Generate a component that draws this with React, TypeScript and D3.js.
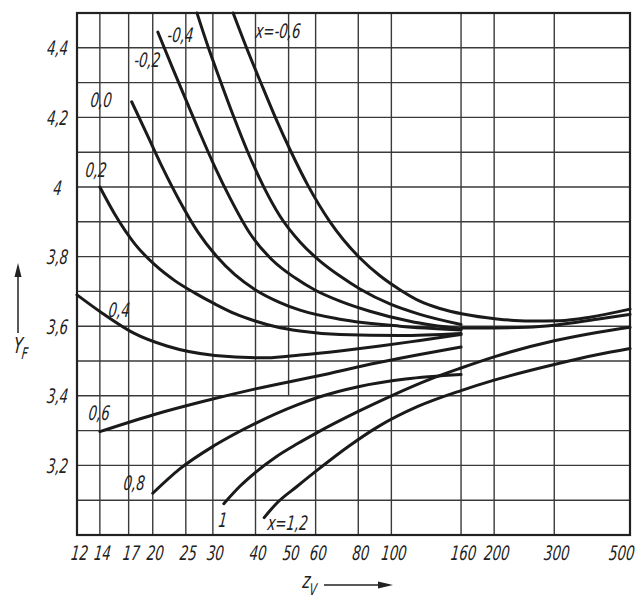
import React, { useRef, useEffect } from 'react';
import * as d3 from 'd3';

// z_v axis (log scale)
const zTicks = [12, 14, 17, 20, 25, 30, 40, 50, 60, 80, 100, 160, 200, 300, 500];
const zGrid = [14, 17, 20, 25, 30, 40, 60, 80, 100, 160, 200, 300];
const zGridShort = [50];
// Y_F axis
const yTicks = [4.4, 4.2, 4.0, 3.8, 3.6, 3.4, 3.2];
const yGrid = [3.1, 3.2, 3.3, 3.4, 3.5, 3.6, 3.7, 3.8, 3.9, 4.0, 4.1, 4.2, 4.3, 4.4];

// curves: [z_v, Y_F] for each profile shift x
const xm06 = [[34.4, 4.5], [38, 4.39], [42.1, 4.284], [46.2, 4.19], [50.5, 4.107], [57, 4.004], [66.1, 3.9], [80.9, 3.796], [92.6, 3.745], [105.9, 3.705], [121.2, 3.672], [138.7, 3.651], [162, 3.635], [203.8, 3.621], [254.6, 3.615], [311.6, 3.616], [381.5, 3.626], [500, 3.649]];
const xm04 = [[26.95, 4.5], [29, 4.405], [31.5, 4.307], [34.4, 4.206], [37.8, 4.105], [42.1, 4.004], [47.2, 3.916], [54, 3.842], [61.8, 3.787], [70.7, 3.744], [80.9, 3.707], [99, 3.664], [121.2, 3.634], [160, 3.605]];
const xm02 = [[20.7, 4.445], [22.9, 4.34], [25.2, 4.243], [27.5, 4.155], [30.4, 4.058], [33.7, 3.968], [38.5, 3.867], [44.7, 3.791], [52.2, 3.739], [59.7, 3.704], [70.7, 3.672], [86.5, 3.643], [113.3, 3.614], [160, 3.592]];
const x00 = [[17.35, 4.245], [19.24, 4.151], [21.4, 4.054], [24, 3.959], [27.1, 3.871], [30.8, 3.8], [34.8, 3.748], [39.9, 3.705], [47.2, 3.668], [54, 3.646], [70.7, 3.62], [105.9, 3.6], [160, 3.589]];
const x02 = [[14, 4.0], [15.5, 3.921], [17.74, 3.836], [20.3, 3.776], [23.2, 3.731], [26.6, 3.695], [30.4, 3.664], [34.8, 3.636], [39.9, 3.615], [45.6, 3.599], [54, 3.586], [70.7, 3.576], [105.9, 3.573], [160, 3.579]];
const x04 = [[12, 3.69], [14.3, 3.636], [17.6, 3.58], [22, 3.543], [30.4, 3.516], [43.2, 3.509], [54, 3.517], [70.7, 3.529], [92.6, 3.543], [121.2, 3.559], [160, 3.576]];
const x06 = [[14, 3.297], [20, 3.345], [28.4, 3.385], [40, 3.42], [60.8, 3.457], [91, 3.495], [120, 3.518], [160, 3.54]];
const x08 = [[20, 3.12], [24, 3.19], [30.3, 3.257], [40, 3.321], [53, 3.374], [60.8, 3.395], [80, 3.426], [110, 3.448], [160, 3.461]];
const x10 = [[32.3, 3.09], [36, 3.14], [40, 3.18], [46, 3.225], [53, 3.262], [60.8, 3.295], [80, 3.355], [100, 3.4], [130, 3.448], [160, 3.48], [200, 3.512], [300, 3.558], [400, 3.582], [500, 3.597]];
const x12 = [[42.4, 3.05], [46, 3.09], [53, 3.14], [60.8, 3.187], [75, 3.255], [91, 3.31], [120, 3.37], [160, 3.415], [200, 3.445], [300, 3.49], [400, 3.518], [500, 3.536]];
const merged = [[160, 3.595], [200, 3.595], [250, 3.597], [300, 3.603], [400, 3.62], [500, 3.634]];

const curves = [xm06, xm04, xm02, x00, x02, x04, x06, x08, x10, x12, merged];

// curve labels, anchored in data coordinates [z_v, Y_F]
const labelText = ['x=-0,6', '-0,4', '-0,2', '0,0', '0,2', '0,4', '0,6', '0,8', '1', 'x=1,2'];
const labelAt = [[39.85, 4.428], [22, 4.417], [17.6, 4.345], [13.1, 4.23], [12.66, 4.029], [14.8, 3.626], [12.92, 3.33], [16.36, 3.129], [31.05, 3.023], [43.2, 3.014]];

const FONT = "'DejaVu Sans Condensed', 'DejaVu Sans', sans-serif";

const App = () => {
  const svgRef = useRef(null);

  useEffect(() => {
    const w = 638;
    const h = 600;
    const svg = d3.select(svgRef.current)
      .attr('width', w)
      .attr('height', h)
      .style('background', '#fff');
    svg.selectAll('*').remove();

    const xs = d3.scaleLog().domain([12, 500]).range([77, 630]);
    const ys = d3.scaleLinear().domain([3.0, 4.5]).range([535, 13]);
    const ink = '#222';

    const grid = svg.append('g').attr('stroke', '#3a3a3a').attr('stroke-width', 1.4);
    grid.selectAll('.vg').data(zGrid).join('line')
      .attr('x1', d => xs(d)).attr('x2', d => xs(d))
      .attr('y1', ys(4.5)).attr('y2', ys(3.0));
    grid.selectAll('.vs').data(zGridShort).join('line')
      .attr('x1', d => xs(d)).attr('x2', d => xs(d))
      .attr('y1', ys(4.5)).attr('y2', ys(3.4));
    grid.selectAll('.hg').data(yGrid).join('line')
      .attr('x1', xs(12)).attr('x2', xs(500))
      .attr('y1', d => ys(d)).attr('y2', d => ys(d));

    svg.append('rect')
      .attr('x', xs(12)).attr('y', ys(4.5))
      .attr('width', xs(500) - xs(12)).attr('height', ys(3.0) - ys(4.5))
      .attr('fill', 'none').attr('stroke', ink).attr('stroke-width', 2.2);

    const line = d3.line()
      .x(d => xs(d[0]))
      .y(d => ys(d[1]))
      .curve(d3.curveMonotoneX);

    svg.append('g').selectAll('path').data(curves).join('path')
      .attr('d', d => line(d))
      .attr('fill', 'none')
      .attr('stroke', '#1a1a1a')
      .attr('stroke-width', 3)
      .attr('stroke-linecap', 'round');

    // narrow, slanted drafting-style lettering
    const place = (x, y) => `translate(${x},${y}) skewX(-6) scale(0.74,1)`;
    const txt = (sel) => sel
      .attr('font-family', FONT)
      .attr('font-style', 'italic')
      .attr('font-size', 20)
      .attr('fill', ink);

    svg.append('g').selectAll('text').data(labelText).join('text')
      .call(txt)
      .attr('transform', (d, i) => place(xs(labelAt[i][0]), ys(labelAt[i][1])))
      .text(d => d);

    // x tick labels
    const last = zTicks.length - 1;
    svg.append('g').selectAll('text').data(zTicks).join('text')
      .call(txt)
      .attr('transform', (d, i) => place(i === last ? xs(d) + 4 : xs(d) + 2, 560))
      .attr('text-anchor', (d, i) => (i === last ? 'end' : 'middle'))
      .text(d => String(d));

    // y tick labels
    svg.append('g').selectAll('text').data(yTicks).join('text')
      .call(txt)
      .attr('transform', d => place(57, ys(d) + 7.5))
      .attr('text-anchor', 'middle')
      .text(d => (d === 4 ? '4' : d.toFixed(1).replace('.', ',')));

    // Y_F axis title with arrow
    const yt = svg.append('text').call(txt).attr('transform', place(13, 353)).attr('font-size', 22);
    yt.append('tspan').text('Y');
    yt.append('tspan').attr('font-size', 16).attr('dy', 6).text('F');
    svg.append('line').attr('x1', 18).attr('x2', 18).attr('y1', 333).attr('y2', 274)
      .attr('stroke', ink).attr('stroke-width', 1.5);
    svg.append('path').attr('d', 'M18,263 L14.5,277 L21.5,277 Z').attr('fill', ink);

    // z_v axis title with arrow
    const xt = svg.append('text').call(txt).attr('transform', place(302, 588)).attr('font-size', 22);
    xt.append('tspan').text('z');
    xt.append('tspan').attr('font-size', 16).attr('dy', 7).text('V');
    svg.append('line').attr('x1', 324).attr('x2', 382).attr('y1', 585).attr('y2', 585)
      .attr('stroke', ink).attr('stroke-width', 1.5);
    svg.append('path').attr('d', 'M393,585 L378,581.5 L378,588.5 Z').attr('fill', ink);
  }, []);

  return (
    <div style={{ position: 'absolute', left: 0, top: 0 }}>
      <svg ref={svgRef}></svg>
    </div>
  );
};

export default App;
